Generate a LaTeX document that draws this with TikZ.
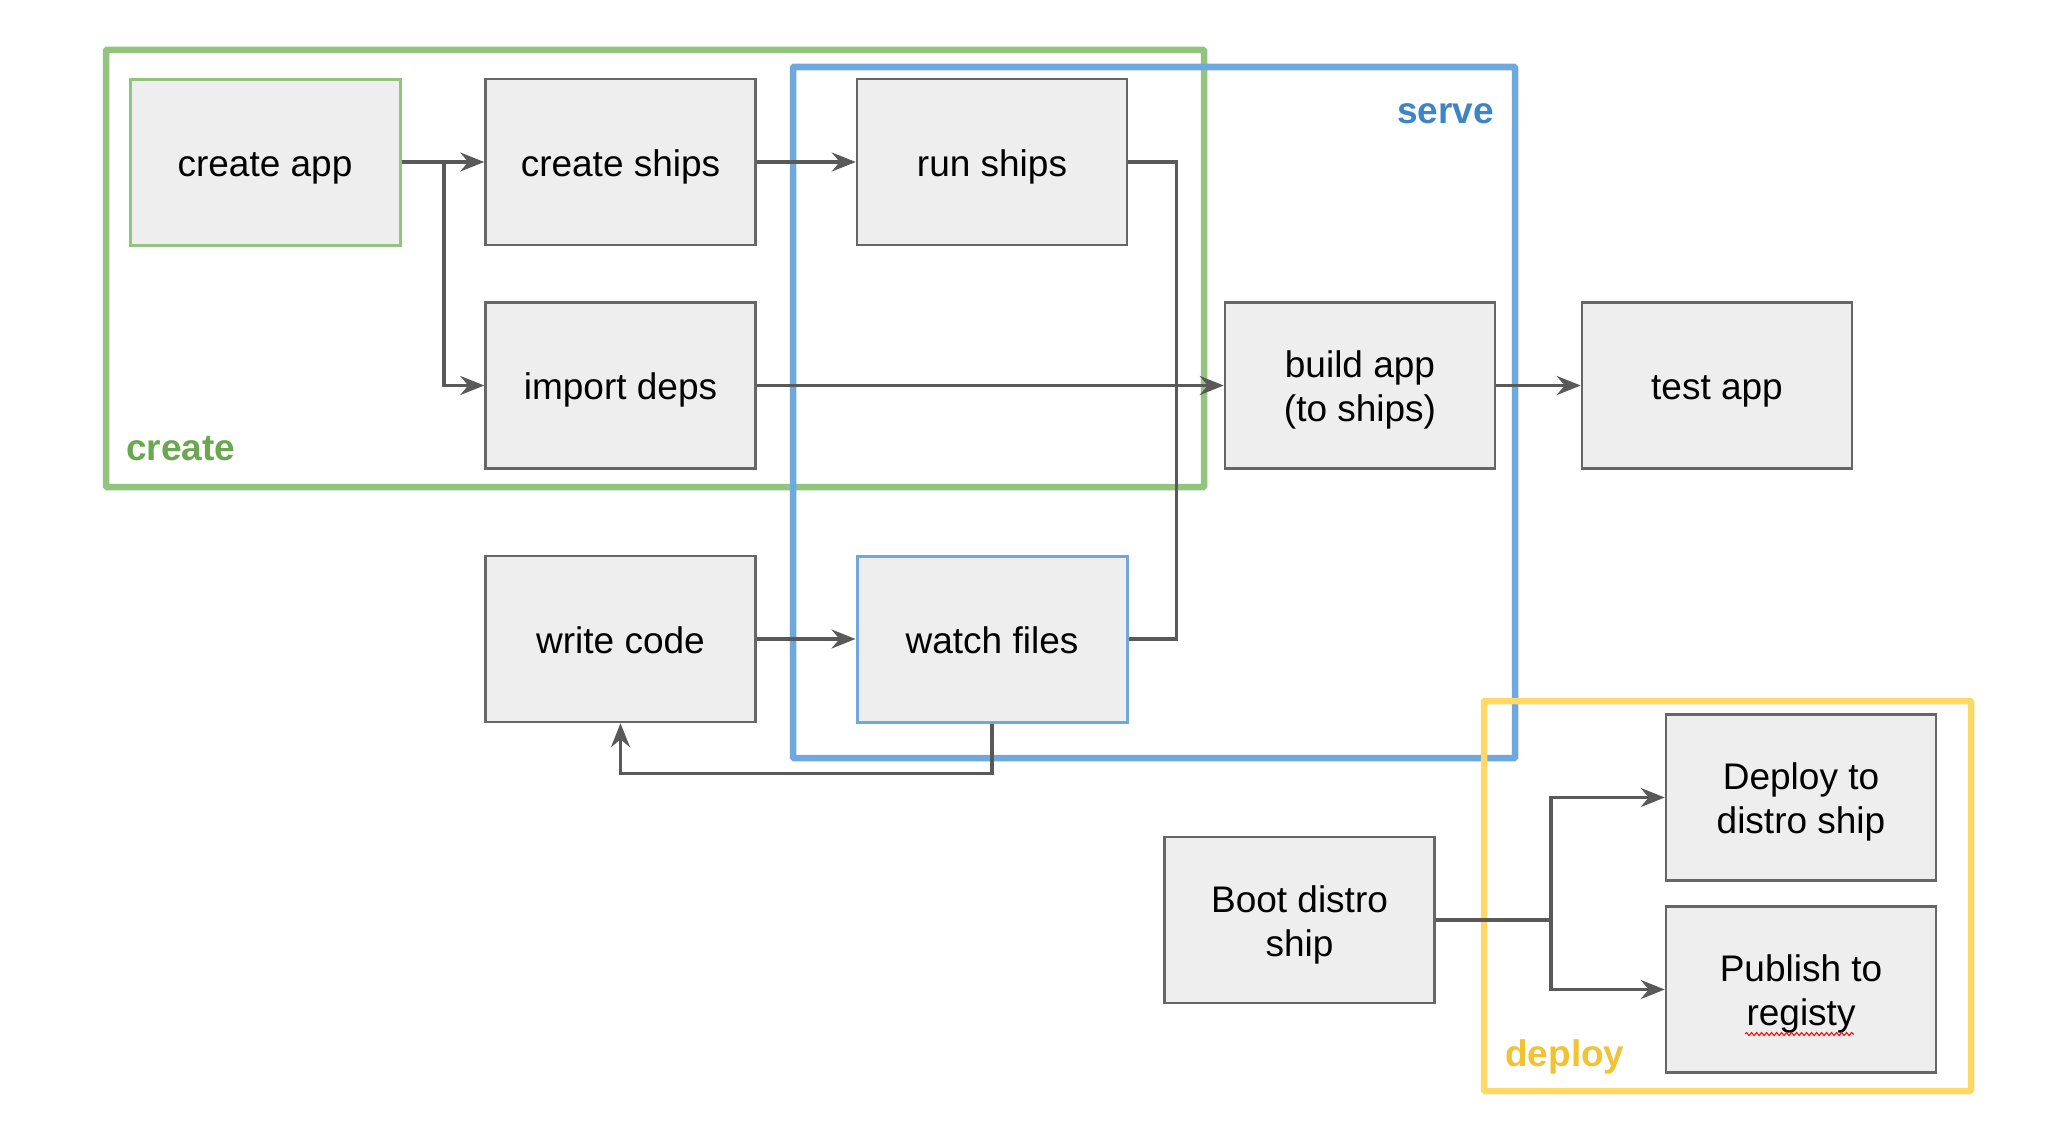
\documentclass[tikz,border=0pt]{standalone}
\usepackage{fontspec}
\setmainfont{Liberation Sans}
\usetikzlibrary{arrows.meta,decorations.pathmorphing}
\definecolor{boxfill}{HTML}{EEEEEE}
\definecolor{boxline}{HTML}{666666}
\definecolor{connc}{HTML}{595959}
\definecolor{gframe}{HTML}{93C47D}
\definecolor{bframe}{HTML}{6FA8DC}
\definecolor{yframe}{HTML}{FFD966}
\definecolor{glabel}{HTML}{6AA84F}
\definecolor{blabel}{HTML}{3D85C6}
\definecolor{ylabel}{HTML}{F1C232}
\newcommand{\boxtext}[1]{\raisebox{-5.5pt}[\height][\depth]{\begin{tabular}{@{}c@{}}#1\end{tabular}}}
\begin{document}
\begin{tikzpicture}[x=1pt,y=-1pt,
 box/.style={draw=boxline, line width=2.5pt, fill=boxfill, minimum width=270pt, minimum height=166pt, inner sep=0pt, font=\fontsize{37}{44}\selectfont, text=black},
 conn/.style={draw=connc, line width=3.5pt},
 arr/.style={conn, -{Stealth[length=24pt,width=19pt,inset=8pt]}},
 frame/.style={line width=6.5pt, rounded corners=1pt},
 lbl/.style={font=\fontsize{37}{44}\selectfont\bfseries, inner sep=0pt}]
\useasboundingbox[fill=white] (0,0) rectangle (2052,1140);
% group frames
\draw[frame, draw=gframe] (106,50) rectangle (1204,487);
\draw[frame, draw=bframe] (793,67) rectangle (1515,758);
\draw[frame, draw=yframe] (1484,701) rectangle (1971,1091);
% labels
\node[lbl, text=glabel, anchor=base west] (lcreate) at (126,460) {create};
\node[lbl, text=blabel, anchor=base east] (lserve) at (1494,123) {serve};
\node[lbl, text=ylabel, anchor=base west] (ldeploy) at (1505,1066) {deploy};
% boxes
\node[box, draw=gframe, line width=3pt] (createapp) at (265,162) {\boxtext{create app}};
\node[box] (createships) at (620.5,162) {\boxtext{create ships}};
\node[box] (runships) at (992,162) {\boxtext{run ships}};
\node[box] (importdeps) at (620.5,385.5) {\boxtext{import deps}};
\node[box] (buildapp) at (1360,385.5) {\boxtext{build app\\(to ships)}};
\node[box] (testapp) at (1717,385.5) {\boxtext{test app}};
\node[box] (writecode) at (620.5,639) {\boxtext{write code}};
\node[box, draw=bframe, line width=3pt] (watchfiles) at (992,639) {\boxtext{watch files}};
\node[box] (boot) at (1299.5,920) {\boxtext{Boot distro\\ship}};
\node[box] (deployto) at (1801,797.5) {\boxtext{Deploy to\\distro ship}};
\node[box] (publish) at (1801,989.5) {\boxtext{Publish to\\registy}};
% spell-check squiggle
\draw[red, line width=1pt, decorate, decoration={snake, amplitude=1.5pt, segment length=5pt}] (1745,1034) -- (1854,1034);
% connectors
\coordinate (br1) at (444,162);
\coordinate (br2) at (1551,920);
\draw[arr] (createapp.east) -- (createships.west);
\draw[arr] (br1) |- (importdeps.west);
\draw[arr] (createships.east) -- (runships.west);
\draw[arr] (importdeps.east) -- (buildapp.west);
\draw[conn] (runships.east) -- ++(48,0) |- (watchfiles.east);
\draw[arr] (buildapp.east) -- (testapp.west);
\draw[arr] (writecode.east) -- (watchfiles.west);
\draw[arr] (watchfiles.south) -- ++(0,50) -| (writecode.south);
\draw[conn] (boot.east) -- (br2);
\draw[arr] (br2) |- (deployto.west);
\draw[arr] (br2) |- (publish.west);
\end{tikzpicture}
\end{document}
